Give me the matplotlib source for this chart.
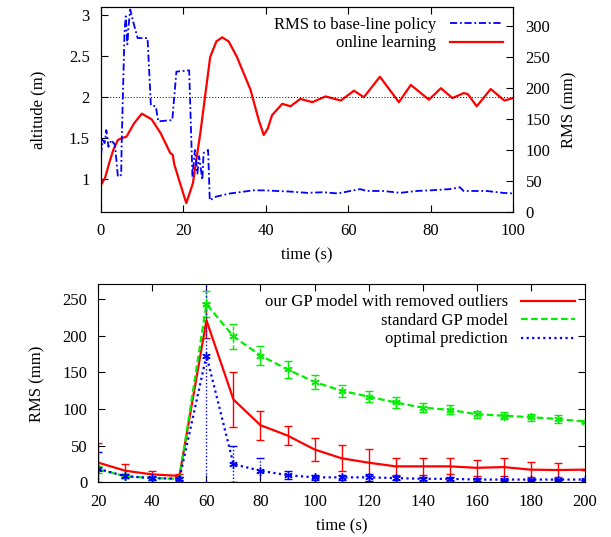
"""Altitude / RMS during online learning, and RMS of GP models over time."""

import matplotlib
matplotlib.use("Agg")
import matplotlib.pyplot as plt
import numpy as np
from matplotlib.lines import Line2D

plt.rcParams["font.family"] = ["Liberation Serif", "DejaVu Serif"]
plt.rcParams["font.size"] = 12

# top panel: altitude (online learning) and RMS to base-line policy
alt_t = [0, 1, 2, 3, 4.1, 5, 6.2, 8, 9.9, 12.3, 14.5, 16.8, 17.4, 17.8, 19.2, 20.7,
         22.3, 24.1, 26.5, 28, 29.4, 31, 33, 36.3, 38.3, 39.5, 40.5, 41.5, 44, 46,
         48.4, 51.3, 54.5, 58.2, 61.4, 63.8, 67.7, 72.3, 75.2, 79.6, 82.5,
         85.3, 88, 89, 91.2, 94.6, 97.9, 100]
alt_m = [0.93, 1.02, 1.2, 1.36, 1.48, 1.5, 1.52, 1.68, 1.80, 1.73, 1.56, 1.32, 1.30,
         1.18, 0.95, 0.71, 0.95, 1.56, 2.49, 2.68, 2.73, 2.68, 2.49, 2.09, 1.72,
         1.54, 1.62, 1.78, 1.92, 1.89, 1.98, 1.94, 2.01, 1.96, 2.08, 2.0, 2.25,
         1.94, 2.15, 1.97, 2.11, 1.99, 2.05, 2.04, 1.89, 2.10, 1.96, 1.99]

rms_t = [0, 0.4, 0.9, 1.3, 1.8, 2.5, 3.4, 4.1, 4.9, 5.0, 5.7, 6.0, 6.4, 6.7,
         7.1, 7.9, 8.9, 11.3, 12.1, 13.3, 13.9, 17.3, 18.3, 21.4, 22.2, 22.8,
         23.4, 23.8, 24.6, 24.9, 26.0, 26.4, 28, 31.3, 37, 39.5, 46, 50, 54,
         57.5, 60.5, 62.9, 64.5, 68.5, 72.6, 76.6, 79.9, 84.7, 87.1, 88, 93.6,
         97.5, 100]
rms_mm = [92, 116, 111, 132, 105, 116, 108, 57, 60, 105, 288, 315, 270, 300,
          326, 304, 280, 280, 172, 170, 146, 148, 226, 228, 57, 100, 62, 90, 52,
          95, 100, 19, 25, 30, 35, 35, 33, 31, 32, 30, 34, 37, 34, 34, 31, 34,
          35, 37, 40, 34, 34, 31, 30]

# bottom panel: RMS of the GP predictions
t_gp = [20, 30, 40, 50, 60, 70, 80, 90, 100, 110, 120, 130, 140, 150, 160, 170,
        180, 190, 200]
ours = [27, 16, 11, 9, 221, 113, 78, 64, 45, 33, 27, 22, 22, 22, 20, 21, 17.5, 17, 17.5]
ours_err = [27, 9, 4, 2, 24, 38, 20, 13, 16, 18, 18, 12, 12, 11, 11, 12, 10, 10, 0]
std_gp = [18, 8.5, 6, 5, 243, 199, 173, 154, 137, 125, 117, 109, 102, 99, 93, 91,
          89, 86.5, 83]
std_err = [5, 3, 2, 2, 18, 17, 13, 11, 9, 8, 8, 7, 6, 6, 5, 5, 5, 6, 0]
optimal = [18.5, 8.5, 6, 5, 173, 25, 16, 10, 7, 7, 7, 6, 5, 5, 4, 4, 4, 4, 4]
opt_err = [23, 3, 2, 2, 180, 25, 17, 5, 3, 3, 5, 3, 2, 2, 2, 1, 1, 1, 0]

GREEN = "#00ee00"
DASH = (0, (3, 1.5))
DOT = (0, (1, 1.5))

fig = plt.figure(figsize=(6.11, 5.37), dpi=100)

ax1 = fig.add_axes([0.1653, 0.605, 0.6743, 0.382])
ax2 = ax1.twinx()
ax2.plot(rms_t, rms_mm, color="blue", linestyle=(0, (4, 1.5, 1, 1.5)), linewidth=1.3,
         label="RMS to base-line policy")
ax1.plot(alt_t, alt_m, color="red", linewidth=1.6)
ax1.axhline(2.0, color="black", linestyle=(0, (1, 2)), linewidth=0.7)
ax2.plot([], [], color="red", linewidth=1.6, label="online learning")

ax1.set_xlim(0, 100)
ax1.set_ylim(0.6, 3.1)
ax2.set_ylim(0, 330)
ax1.set_xticks(np.arange(0, 101, 20))
ax1.set_yticks([1, 1.5, 2, 2.5, 3])
ax1.set_yticklabels(["1", "1.5", "2", "2.5", "3"])
ax2.set_yticks(np.arange(0, 301, 50))
ax1.tick_params(direction="in", top=True, right=False, length=5, pad=8)
ax2.tick_params(direction="in", length=5, pad=9)
ax1.set_xlabel("time (s)", labelpad=6)
ax1.set_ylabel("altitude (m)", labelpad=16)
ax2.set_ylabel("RMS (mm)", labelpad=8)
ax2.legend(loc="upper right", frameon=False, markerfirst=False, handlelength=3.2,
           borderaxespad=0.2, labelspacing=0.15, fontsize=12)

ax3 = fig.add_axes([0.161, 0.1015, 0.796, 0.369])
series = [
    (ours, ours_err, "red", "-", None, "our GP model with removed outliers"),
    (std_gp, std_err, GREEN, DASH, (6, 2, 0), "standard GP model"),
    (optimal, opt_err, "blue", DOT, (6, 2, 0), "optimal prediction"),
]
handles = []
for vals, err, col, ls, mk, lab in series:
    eb = ax3.errorbar(t_gp, vals, yerr=err, color=col, linestyle=ls, linewidth=1.6,
                      marker=mk, markersize=6, capsize=3, elinewidth=1.0)
    for coll in eb[2]:
        coll.set_linestyle(ls)
    handles.append(Line2D([0], [0], color=col, linestyle=ls, linewidth=1.6, label=lab))

ax3.set_xlim(20, 200)
ax3.set_ylim(0, 270)
ax3.set_xticks(np.arange(20, 201, 20))
ax3.set_yticks(np.arange(0, 251, 50))
ax3.tick_params(direction="in", top=True, right=True, length=5, pad=8)
ax3.set_xlabel("time (s)", labelpad=6)
ax3.set_ylabel("RMS (mm)", labelpad=12)
ax3.legend(handles=handles, loc="upper right", frameon=False, markerfirst=False,
           handlelength=3.2, borderaxespad=0.2, labelspacing=0.15, fontsize=12)

fig.savefig("out.png", dpi=100)
